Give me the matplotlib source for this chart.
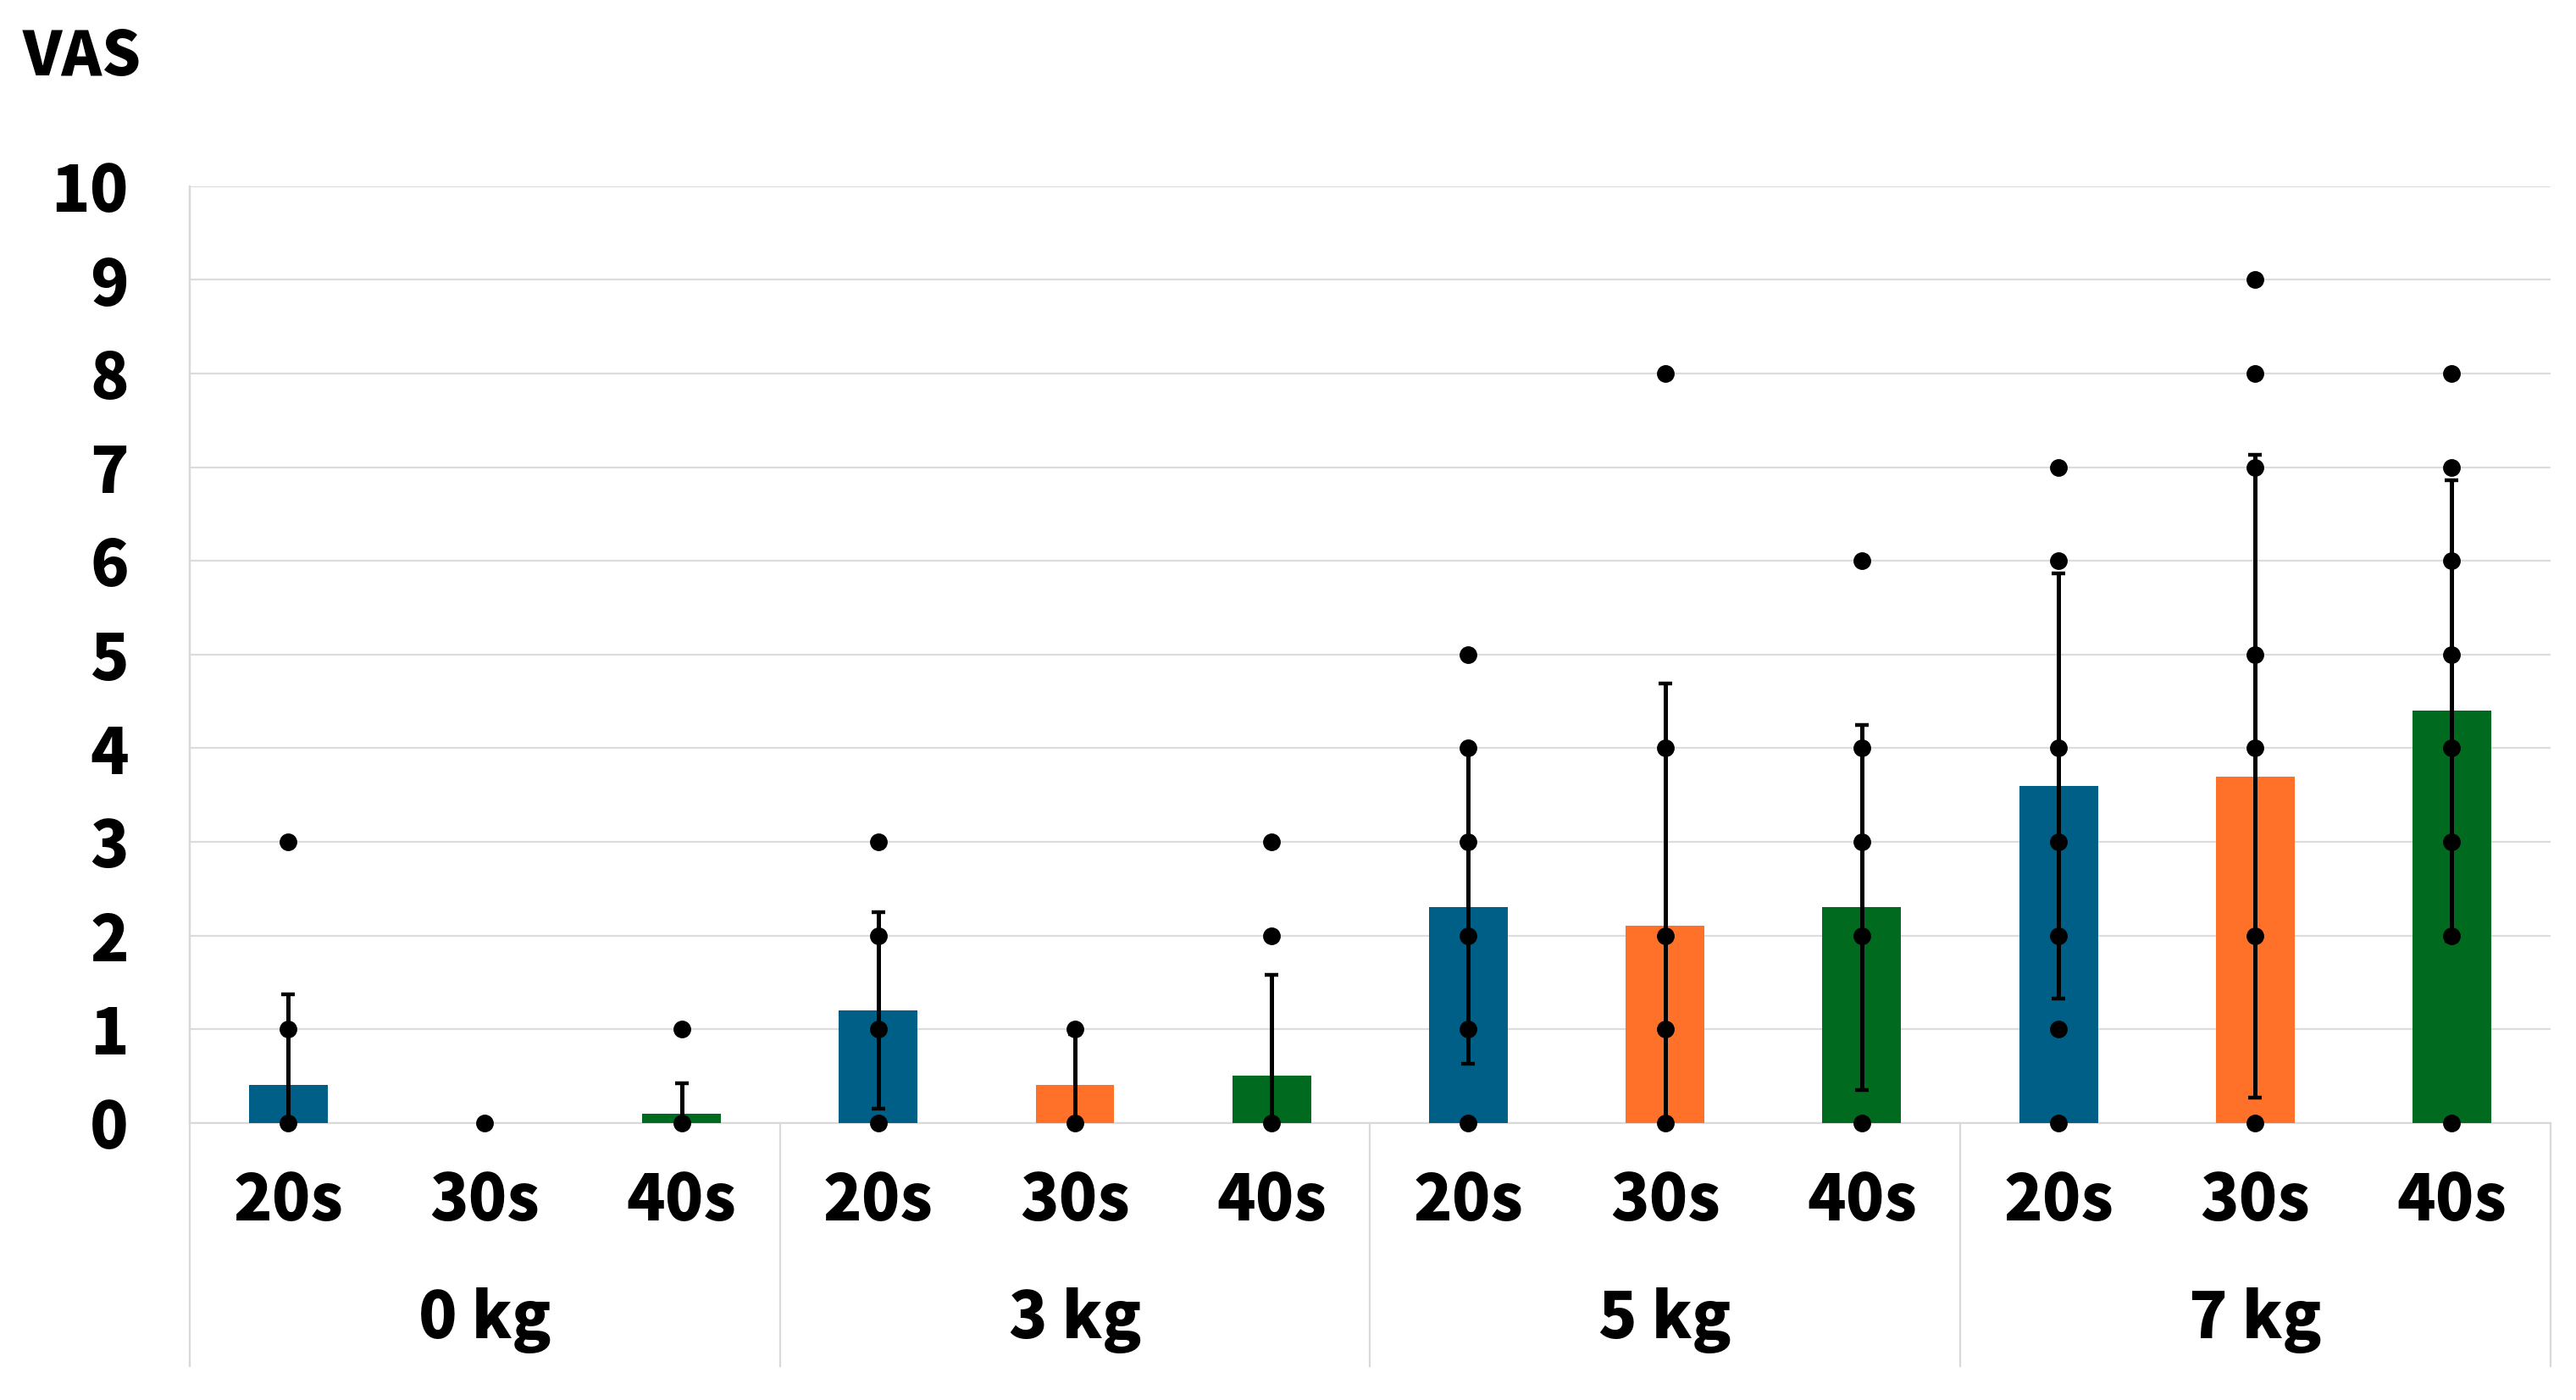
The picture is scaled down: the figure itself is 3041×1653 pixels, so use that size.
import matplotlib.pyplot as plt
import matplotlib.transforms as mtransforms

plt.rcParams['font.family'] = ['Noto Sans CJK JP', 'DejaVu Sans']
plt.rcParams['font.weight'] = 'heavy'

# Data
loads = ['0 kg', '3 kg', '5 kg', '7 kg']
times = ['20s', '30s', '40s']
means = [0.4, 0.0, 0.1,
         1.2, 0.4, 0.5,
         2.3, 2.1, 2.3,
         3.6, 3.7, 4.4]
sds = [0.97, 0.0, 0.32,
       1.05, 0.55, 1.08,
       1.67, 2.59, 1.95,
       2.27, 3.43, 2.46]
points = [[0, 1, 3], [0], [0, 1],
          [0, 1, 2, 3], [0, 1], [0, 2, 3],
          [0, 1, 2, 3, 4, 5], [0, 1, 2, 4, 8], [0, 2, 3, 4, 6],
          [0, 1, 2, 3, 4, 6, 7], [0, 2, 4, 5, 7, 8, 9], [0, 2, 3, 4, 5, 6, 7, 8]]
colors = ['#005F86', '#FF7029', '#006A1E']

fig = plt.figure(figsize=(15.205, 8.265), dpi=200)
ax = fig.add_axes([0.0737, 0.198, 0.9163, 0.669])

xs = list(range(len(means)))
bar_colors = [colors[i % 3] for i in xs]
ax.bar(xs, means, width=0.40, color=bar_colors, zorder=2)
err_x = [x for x in xs if sds[x] > 0]
ax.errorbar(err_x, [means[x] for x in err_x], yerr=[sds[x] for x in err_x],
            fmt='none', ecolor='black', elinewidth=1.8, capsize=3,
            capthick=1.6, zorder=3)
for x in xs:
    ax.plot([x] * len(points[x]), points[x], 'o', color='black',
            markersize=6.5, zorder=4, clip_on=False)

ax.set_xlim(-0.5, len(means) - 0.5)
ax.set_ylim(0, 10)
ax.set_yticks(range(0, 11))
ax.grid(axis='y', color='#DCDCDC', linewidth=0.8, zorder=0)
ax.set_axisbelow(True)
for s in ['top', 'right', 'bottom']:
    ax.spines[s].set_visible(False)
ax.spines['left'].set_color('#D9D9D9')
ax.spines['left'].set_linewidth(0.8)
ax.tick_params(axis='y', length=0, pad=26, labelsize=27)
ax.tick_params(axis='x', length=0, labelbottom=False)
for lab in ax.get_yticklabels():
    lab.set_fontweight('heavy')

# multi-level category axis
trans = mtransforms.blended_transform_factory(ax.transData, ax.transAxes)
ax.plot([-0.5, len(means) - 0.5], [0, 0], color='#D9D9D9', linewidth=0.8,
        transform=trans, clip_on=False, zorder=1)
ax.plot([-0.5, -0.5], [-0.26, 1], color='#D9D9D9', linewidth=0.8,
        transform=trans, clip_on=False)
for g in range(1, len(loads) + 1):
    xb = g * 3 - 0.5
    ax.plot([xb, xb], [-0.26, 0], color='#D9D9D9', linewidth=0.8,
            transform=trans, clip_on=False)
for x in xs:
    ax.text(x, -0.084, times[x % 3], transform=trans, ha='center',
            va='center', fontsize=27, fontweight='heavy')
for g, name in enumerate(loads):
    ax.text(g * 3 + 1, -0.211, name, transform=trans, ha='center',
            va='center', fontsize=27, fontweight='heavy')

fig.text(97 / 3041, 1 - 68 / 1653, 'VAS', ha='center', va='center',
         fontsize=26, fontweight='heavy')

fig.savefig('out.png', dpi=200)
